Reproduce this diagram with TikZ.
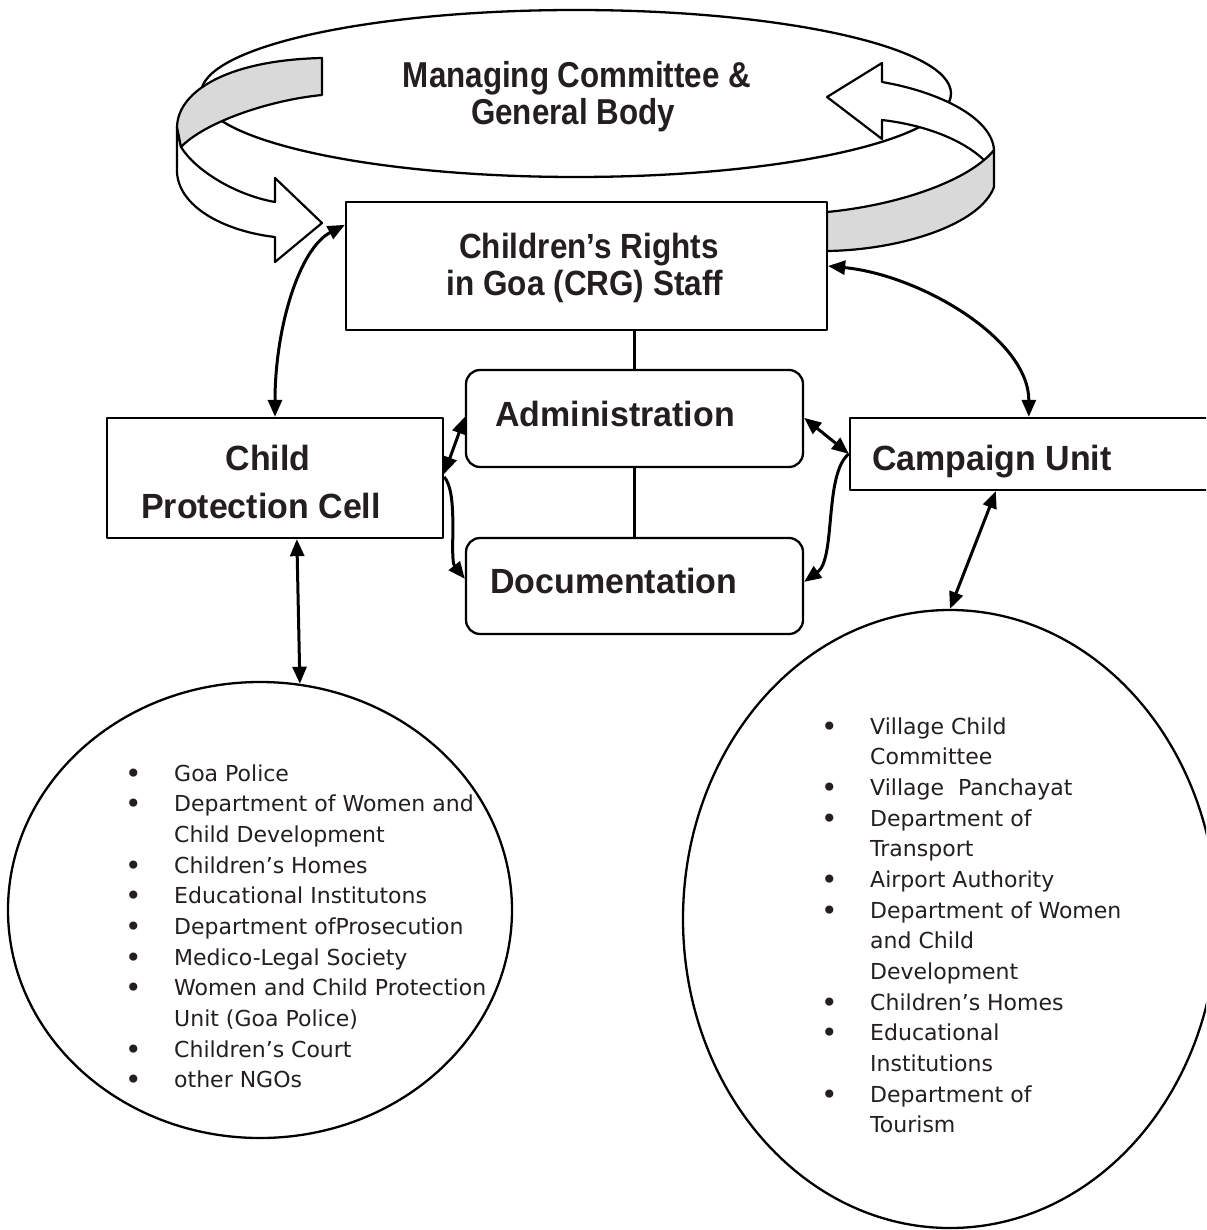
\documentclass[tikz,border=0pt]{standalone}
\usepackage{fontspec}
\usetikzlibrary{arrows.meta,shapes.geometric,calc}
\newfontfamily\topfam{Liberation Sans}[FakeStretch=0.87]
\newfontfamily\crgfam{Liberation Sans}[FakeStretch=0.9]
\newfontfamily\hdfam{Liberation Sans}[FakeStretch=0.97]
\newfontfamily\bodyfam{DejaVu Sans}
\definecolor{bandgray}{HTML}{D9D9D9}
\definecolor{txt}{HTML}{231F20}
\newcommand\bdot{{\fontsize{28}{28}\selectfont\raisebox{-2pt}{•}}}
\newcommand\bitem[1]{\makebox[49pt][l]{\bdot}#1}
\newcommand\citem[1]{\hspace*{49pt}#1}
\begin{document}
\begin{tikzpicture}[x=1pt,y=-1pt,line join=round,
  box/.style={draw, rectangle, line width=2.3pt, fill=white, inner sep=0pt},
  rbox/.style={box, rounded corners=14pt},
  ell/.style={draw, ellipse, line width=2.3pt, fill=white, inner sep=0pt},
  conn/.style={line width=3pt, {Triangle[length=17pt,width=14pt]}-{Triangle[length=17pt,width=14pt]}},
  conn1/.style={line width=3pt, -{Triangle[length=17pt,width=14pt]}},
  band/.style={draw, line width=2.2pt},
  link/.style={line width=2.2pt},
  topt/.style={font=\topfam\bfseries\fontsize{36}{40}\selectfont, inner sep=0pt, text=txt},
  crgt/.style={font=\crgfam\bfseries\fontsize{35}{40}\selectfont, inner sep=0pt, text=txt},
  hd/.style={font=\hdfam\bfseries\fontsize{35}{40}\selectfont, inner sep=0pt, text=txt},
  body/.style={font=\bodyfam\fontsize{22}{30.65}\selectfont, inner sep=0pt, text=txt}]
\useasboundingbox (0,0) rectangle (1206,1230);
\clip (0,0) rectangle (1206,1230);
\fill[white] (0,0) rectangle (1206,1230);

% top ellipse
\node[ell, minimum width=750pt, minimum height=167pt] (mgc) at (576,93.5) {};

% left ribbon arrow
\draw[band, fill=white] (181,147) .. controls (195,170) and (235,195) .. (275,202)
  -- (275,178) -- (322,223) -- (275,262) -- (275,237)
  .. controls (230,232) and (180,210) .. (177,173) -- (177,127) -- cycle;
\draw[band, fill=bandgray] (322,58) -- (322,95) .. controls (270,100) and (205,122) .. (181,147)
  -- (177,127) .. controls (178,90) and (230,60) .. (322,58) -- cycle;

% right ribbon arrow
\draw[band, fill=white] (827,97) -- (882,63) -- (882,82)
  .. controls (940,92) and (992,118) .. (994,150) -- (987,163)
  .. controls (965,140) and (925,125) .. (882,120) -- (882,139) -- cycle;
\draw[band, fill=bandgray] (827,212) .. controls (900,205) and (970,180) .. (994,150)
  -- (994,187) .. controls (980,225) and (900,250) .. (827,251) -- cycle;

% boxes
\node[box, minimum width=481pt, minimum height=128pt] (crg) at (586.5,266) {};
\node[box, minimum width=336pt, minimum height=120pt] (cpc) at (275,478) {};
\node[rbox, minimum width=337pt, minimum height=97pt] (adm) at (634.5,418.5) {};
\node[rbox, minimum width=337pt, minimum height=96pt] (doc) at (634.5,586) {};
\node[box, minimum width=370pt, minimum height=72pt] (cu) at (1035,454) {};
\node[ell, minimum width=504pt, minimum height=456pt] (lel) at (260,910) {};
\node[ell, minimum width=534pt, minimum height=618pt] (rel) at (950,919) {};

% links
\draw[link] (adm.north) -- (adm.north |- crg.south);
\draw[link] (adm.south) -- (doc.north);

% texts
\node[topt, anchor=base] (mg1) at (577,88) {Managing Committee \&};
\node[topt, anchor=base] (mg2) at (573,125) {General Body};
\node[crgt, anchor=base] (crg1) at (589,259) {Children’s Rights};
\node[crgt, anchor=base] (crg2) at (585,295) {in Goa (CRG) Staff};
\node[hd, anchor=base] (cpc1) at (268,470) {Child};
\node[hd, anchor=base] (cpc2) at (261,518) {Protection Cell};
\node[hd, anchor=base west] (admt) at (495,426) {Administration};
\node[hd, anchor=base west] (doct) at (490,593) {Documentation};
\node[hd, anchor=base west] (cut) at (872,470) {Campaign Unit};

\node[body, anchor=north west, align=left] (llist) at (125,764.3) {%
\bitem{Goa Police}\\
\bitem{Department of Women and}\\
\citem{Child Development}\\
\bitem{Children’s  Homes}\\
\bitem{Educational Institutons}\\
\bitem{Department ofProsecution}\\
\bitem{Medico-Legal Society}\\
\bitem{Women and Child Protection}\\
\citem{Unit (Goa Police)}\\
\bitem{Children’s Court}\\
\bitem{other NGOs}};

\node[body, anchor=north west, align=left] (rlist) at (821,717.3) {%
\bitem{Village Child}\\
\citem{Committee}\\
\bitem{Village \ Panchayat}\\
\bitem{Department of}\\
\citem{Transport}\\
\bitem{Airport Authority}\\
\bitem{Department of Women}\\
\citem{and Child}\\
\citem{Development}\\
\bitem{Children’s Homes}\\
\bitem{Educational}\\
\citem{Institutions}\\
\bitem{Department of}\\
\citem{Tourism}};

% connectors
\draw[conn] (cpc.north) .. controls +(0,-88) and +(-46,24) .. ($(crg.north west)+(0,24)$);
\draw[conn] (crg.east) .. controls +(92,9) and +(0,-78) .. ($(cu.north west)+(180,0)$);
\draw[conn] ($(cpc.north east)+(0,57)$) -- ($(adm.north west)+(0,48)$);
\draw[conn1] ($(cpc.north east)+(0,60)$) .. controls +(15,17) and +(-16,-20) .. ($(doc.north west)+(0,42)$);
\draw[conn] ($(adm.north east)+(0,49)$) -- ($(cu.north west)+(0,37)$);
\draw[conn1] ($(cu.north west)+(0,37)$) .. controls +(-25,20) and +(32,-23) .. ($(doc.north east)+(0,45)$);
\draw[conn] ($(cpc.south west)+(191,0)$) -- (lel.80.4);
\draw[conn] ($(cu.south west)+(147,0)$) -- (rel.north);
\end{tikzpicture}
\end{document}
